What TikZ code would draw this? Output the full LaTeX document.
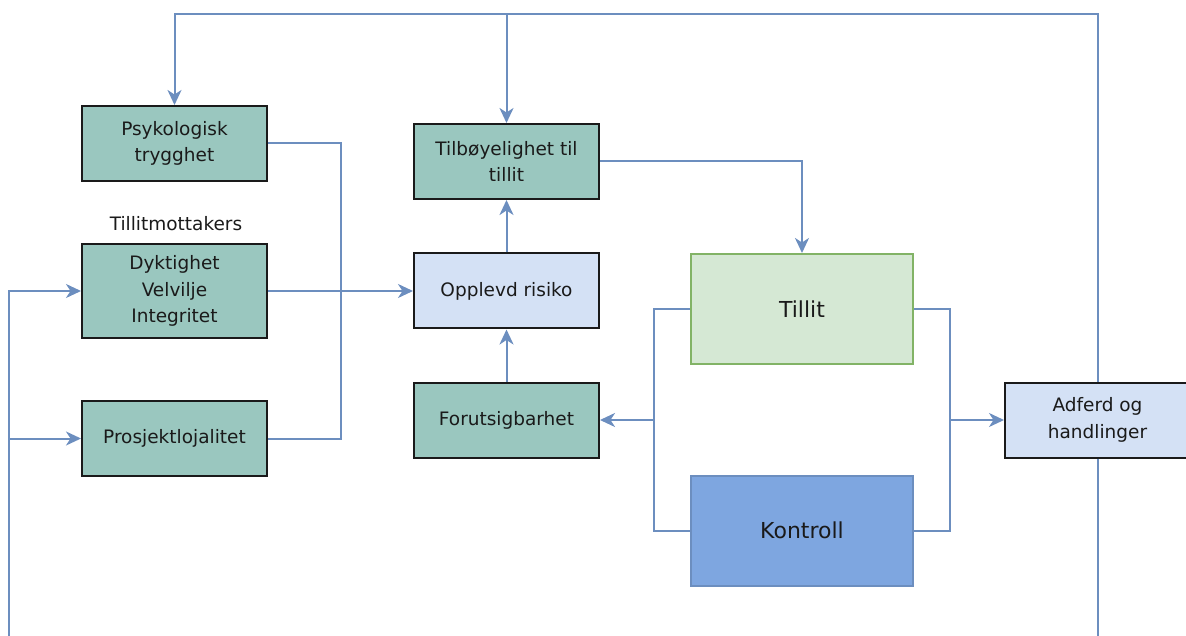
\documentclass[tikz,border=0pt]{standalone}
\usepackage{fontspec}
\setmainfont{DejaVu Sans}
\usetikzlibrary{arrows.meta}
\definecolor{linkc}{HTML}{6C8EBF}
\definecolor{tealfill}{HTML}{9AC7BF}
\definecolor{paleblue}{HTML}{D4E1F5}
\definecolor{palegreen}{HTML}{D5E8D4}
\definecolor{greenline}{HTML}{82B366}
\definecolor{midblue}{HTML}{7EA6E0}
\definecolor{ink}{HTML}{1A1A1A}
\begin{document}
\begin{tikzpicture}[x=1pt,y=-1pt,
  box/.style={draw=ink, line width=2pt, minimum width=185pt, minimum height=75pt,
    align=center, inner sep=0pt, text=ink, font=\fontsize{18.5}{26.5}\selectfont},
  factor/.style={box, fill=tealfill},
  outcome/.style={box, fill=paleblue},
  bigbox/.style={line width=2pt, minimum width=222pt, minimum height=110pt,
    align=center, inner sep=0pt, text=ink, font=\fontsize{22}{26}\selectfont},
  plain/.style={draw=linkc, line width=2pt},
  link/.style={plain, -{Stealth[length=15pt,width=14pt,inset=4.5pt]}}
]
\useasboundingbox (0,0) rectangle (1186,636);

% boxes
\node[factor] (psy) at (174.5,143.5) {Psykologisk\\trygghet};
\node[factor, minimum height=93pt] (dyk) at (174.5,291) {Dyktighet\\Velvilje\\Integritet};
\node[text=ink, font=\fontsize{18.5}{22}\selectfont] (lbl) at (176,224) {Tillitmottakers};
\node[factor] (pro) at (174.5,438.5) {Prosjektlojalitet};
\node[factor] (tilb) at (506.5,161.5) {Tilbøyelighet til\\tillit};
\node[outcome] (opp) at (506.5,291) {Opplevd risiko};
\node[factor] (forut) at (506.5,420) {Forutsigbarhet};
\node[bigbox, draw=greenline, fill=palegreen] (tillit) at (802,309) {Tillit};
\node[bigbox, draw=linkc, fill=midblue] (kon) at (802,530.5) {Kontroll};
\node[outcome] (adf) at (1097.5,420) {Adferd og\\handlinger};

% junction points
\coordinate (topy) at (0,14);
\coordinate (lb) at (9,636);
\coordinate (mergeL) at (341,438.5);
\coordinate (jl) at (654,420);
\coordinate (jr) at (950,420);

% feedback loop over the top
\draw[link] (adf.north) -- (adf.north |- topy) -| (psy.north);
\draw[link] (tilb.north |- topy) -- (tilb.north);

% feedback loop from below
\draw[plain] (adf.south) -- (adf.south |- lb);
\draw[link] (lb) |- (dyk.west);
\draw[link] (lb |- pro.west) -- (pro.west);

% factors into perceived risk
\draw[plain] (psy.east) -| (mergeL) -- (pro.east);
\draw[link] (dyk.east) -- (opp.west);
\draw[link] (opp.north) -- (tilb.south);
\draw[link] (forut.north) -- (opp.south);
\draw[link] (tilb.east) -| (tillit.north);

% trust and control
\draw[plain] (tillit.west) -| (jl);
\draw[plain] (kon.west) -| (jl);
\draw[link] (jl) -- (forut.east);
\draw[plain] (tillit.east) -| (jr);
\draw[plain] (kon.east) -| (jr);
\draw[link] (jr) -- (adf.west);
\end{tikzpicture}
\end{document}
